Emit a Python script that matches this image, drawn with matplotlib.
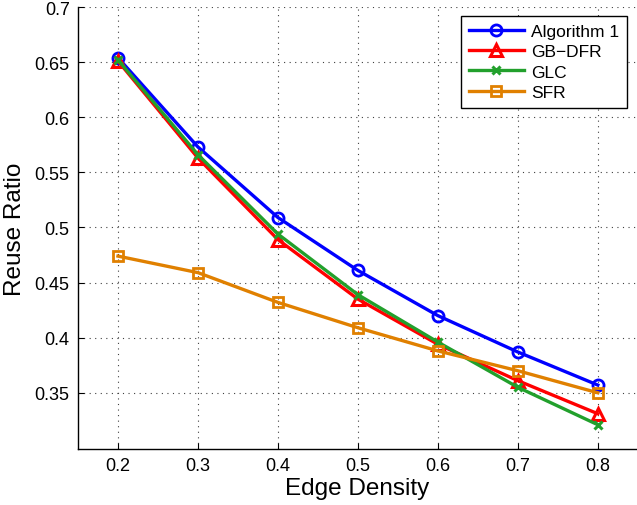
import matplotlib.pyplot as plt

plt.rcParams['font.family'] = ['Liberation Sans', 'DejaVu Sans']

density = [0.2, 0.3, 0.4, 0.5, 0.6, 0.7, 0.8]
alg1 = [0.654, 0.573, 0.509, 0.461, 0.420, 0.387, 0.357]
gb_dfr = [0.651, 0.563, 0.489, 0.435, 0.394, 0.361, 0.331]
glc = [0.652, 0.566, 0.494, 0.439, 0.396, 0.355, 0.321]
sfr = [0.474, 0.459, 0.432, 0.409, 0.388, 0.370, 0.350]

fig = plt.figure(figsize=(6.37, 5.06), dpi=100)
ax = fig.add_axes([78 / 637, 56 / 506, 559 / 637, 442 / 506])

lw = 2.4
ax.plot(density, alg1, color='#0000FF', lw=lw, marker='o', ms=8, mfc='none', mew=2, label='Algorithm 1')
ax.plot(density, gb_dfr, color='#FF0000', lw=lw, marker='^', ms=9, mfc='none', mew=2.2, label='GB\u2212DFR')
ax.plot(density, glc, color='#22A02C', lw=lw, marker='x', ms=6, mew=2.2, label='GLC')
ax.plot(density, sfr, color='#E08000', lw=lw, marker='s', ms=7.5, mfc='none', mew=2, label='SFR')

ax.set_xlim(0.15, 0.849)
ax.set_ylim(0.299, 0.7)
ax.set_xticks(density)
ax.set_xticklabels(['0.2', '0.3', '0.4', '0.5', '0.6', '0.7', '0.8'])
ax.set_yticks([0.35, 0.4, 0.45, 0.5, 0.55, 0.6, 0.65, 0.7])
ax.set_yticklabels(['0.35', '0.4', '0.45', '0.5', '0.55', '0.6', '0.65', '0.7'])
ax.tick_params(direction='in', length=4, labelsize=13, pad=6)

ax.grid(True, linestyle=(0, (1, 4)), color='#404040', linewidth=0.8)
for side in ['top', 'right']:
    ax.spines[side].set_visible(False)
for side in ['left', 'bottom']:
    ax.spines[side].set_linewidth(1.0)

ax.set_xlabel('Edge Density', fontsize=17.5, labelpad=2)
ax.set_ylabel('Reuse Ratio', fontsize=17.5, labelpad=6)

leg = ax.legend(loc='upper right', bbox_to_anchor=(0.982, 0.98), borderaxespad=0, fontsize=12.5,
                handlelength=3.2, fancybox=False, framealpha=1, edgecolor='black', borderpad=0.45,
                labelspacing=0.3, handletextpad=0.4)
leg.get_frame().set_linewidth(1.0)

fig.savefig('out.png', dpi=100)
